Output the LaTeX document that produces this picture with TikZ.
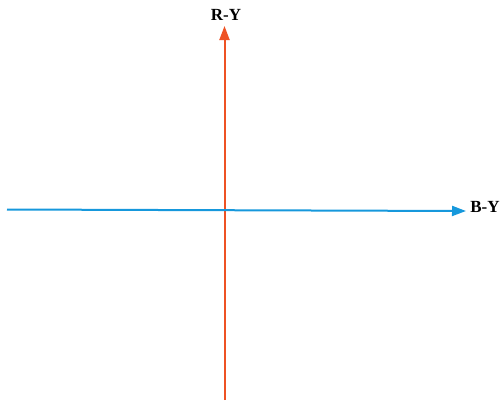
\documentclass[tikz,border=0pt]{standalone}
\usepackage{fontspec}
\setmainfont{Liberation Serif}
\usetikzlibrary{arrows.meta}
\definecolor{axisred}{RGB}{238,82,36}
\definecolor{axisblue}{RGB}{22,152,220}

\begin{document}
\begin{tikzpicture}[x=1pt,y=-1pt,
axis/.style={line width=2pt,-{Triangle[length=14pt,width=10pt]}},
lbl/.style={font=\bfseries\fontsize{17}{19}\selectfont,inner sep=0pt}]
\useasboundingbox (0,0) rectangle (503,405);
\coordinate (rybot) at (224.5,400);
\coordinate (rytop) at (224.5,26);
\coordinate (byleft) at (7,209.5);
\coordinate (byright) at (466,211);
\draw[axis,axisred] (rybot)--(rytop);
\draw[axis,axisblue] (byleft)--(byright);
\node[lbl] (ry) at (226,15) {R-Y};
\node[lbl] (by) at (485,207) {B-Y};
\end{tikzpicture}
\end{document}
